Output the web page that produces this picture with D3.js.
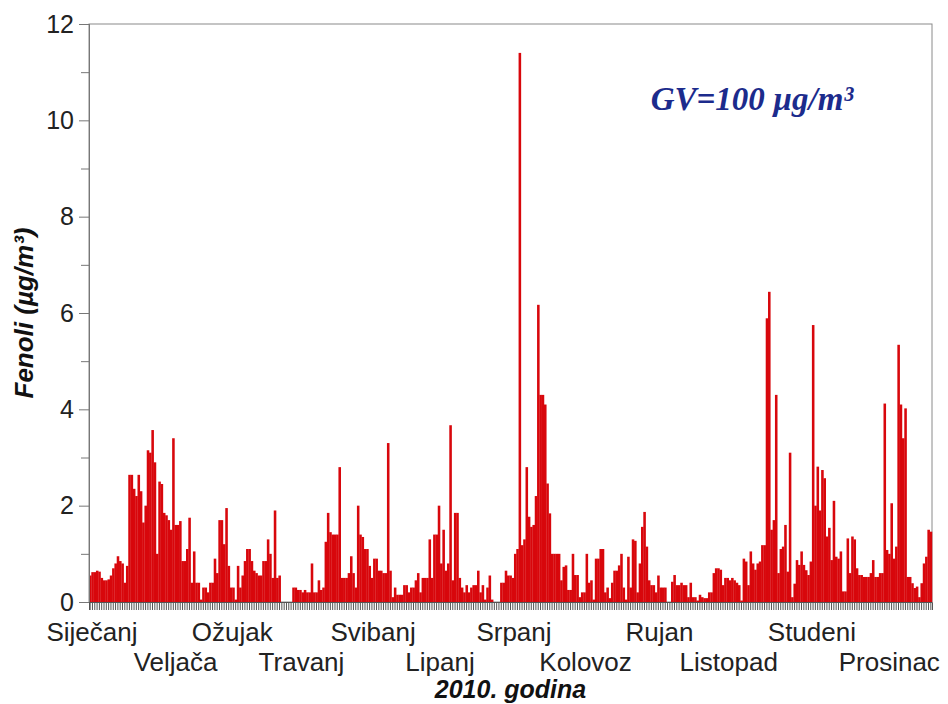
<!DOCTYPE html>
<html>
<head>
<meta charset="utf-8">
<script src="https://cdn.jsdelivr.net/npm/d3@7"></script>
<style>
body { margin: 0; background: #fff; }
</style>
</head>
<body>
<script>
// daily phenol values for 2010, one array per month
var jan = [0.55, 0.62, 0.62, 0.65, 0.63, 0.5, 0.45, 0.45, 0.47, 0.55, 0.7, 0.8, 0.95, 0.85, 0.8, 0.4,
           0.75, 2.64, 2.64, 2.35, 2.2, 2.64, 2.3, 1.65, 2.0, 3.15, 3.1, 3.57, 2.9, 1.0, 2.5];
var feb = [2.45, 1.85, 1.8, 1.7, 1.5, 3.4, 1.6, 1.6, 1.68, 0.85, 0.85, 1.1, 1.75, 0.4, 1.05, 0.4,
           0.4, 0.05, 0.3, 0.3, 0.2, 0.4, 0.4, 0.9, 0.6, 1.7, 1.7, 1.2];
var mar = [1.95, 0.75, 0.3, 0.3, 0.05, 0.75, 0.3, 0.55, 0.85, 1.1, 1.1, 0.85, 0.65, 0.6, 0.55, 0.55,
           0.85, 0.85, 1.3, 1.0, 0.5, 1.9, 0.5, 0.55, 0, 0, 0, 0, 0, 0.3, 0.3];
var apr = [0.25, 0.25, 0.2, 0.25, 0.2, 0.2, 0.8, 0.2, 0.2, 0.45, 0.25, 0.3, 1.25, 1.85, 1.45, 1.4,
           1.4, 1.4, 2.8, 0.5, 0.5, 0.5, 0.6, 0.95, 0.6, 0.3, 2.0, 1.4, 1.35, 1.1];
var may = [1.1, 0.75, 0.5, 0.9, 0.9, 0.65, 0.65, 0.6, 0.6, 3.3, 0.65, 0.1, 0.3, 0.15, 0.15, 0.15,
           0.35, 0.35, 0.2, 0.3, 0.3, 0.45, 0.6, 0.2, 0.5, 0.5, 0.5, 1.3, 0.5, 1.4, 1.4];
var jun = [2.0, 0.8, 1.5, 0.65, 0.8, 3.67, 0.45, 1.85, 1.85, 0.5, 0.3, 0.2, 0.35, 0.2, 0.3, 0.35,
           0.35, 0.65, 0.2, 0.35, 0.05, 0.3, 0.55, 0.05, 0, 0, 0, 0.4, 0.4, 0.65];
var jul = [0.55, 0.55, 0.5, 1.0, 1.1, 11.4, 1.18, 1.3, 2.8, 1.77, 1.56, 1.6, 2.2, 6.17, 4.3, 4.3,
           4.1, 2.46, 1.84, 1.0, 1.0, 1.0, 1.0, 0.45, 0.73, 0.76, 0.25, 0.25, 1.0, 0.56, 0.56];
var aug = [0.1, 0.2, 0.2, 1.0, 0.4, 0.45, 0.05, 0.9, 0.9, 1.1, 1.1, 0.2, 0.3, 0.08, 0.4, 0.65,
           0.65, 0.76, 1.0, 0.3, 0.05, 0.94, 0.3, 1.3, 1.27, 0.2, 0.8, 1.56, 1.87, 1.15, 0.45];
var sep = [0.35, 0.35, 0.2, 0.55, 0.3, 0.3, 0.3, 0, 0, 0.42, 0.56, 0.35, 0.35, 0.4, 0.35, 0.35,
           0.1, 0.4, 0.1, 0.1, 0.03, 0.15, 0.1, 0.08, 0.08, 0.2, 0.2, 0.6, 0.7, 0.7];
var oct = [0.67, 0.35, 0.5, 0.5, 0.45, 0.5, 0.45, 0.4, 0.35, 0.03, 0.9, 0.84, 0.35, 1.05, 0.8, 0.67,
           0.8, 0.84, 1.18, 1.18, 5.89, 6.44, 1.5, 1.7, 4.3, 0.6, 1.1, 1.15, 1.6, 0.63, 3.1];
var nov = [0.1, 0.38, 0.87, 0.77, 1.05, 0.77, 0.66, 0.56, 0.84, 5.75, 2.0, 2.81, 1.9, 2.74, 2.57, 1.36,
           1.54, 0.87, 2.1, 0.94, 0.9, 1.05, 0.22, 0.22, 1.32, 0.6, 1.36, 1.3, 0.7, 0.56];
var dec = [0.56, 0.52, 0.52, 0.52, 0.6, 0.87, 0.52, 0.52, 0.6, 0.6, 4.12, 1.08, 1.0, 2.05, 0.9, 1.15,
           5.34, 4.1, 3.4, 4.02, 0.52, 0.52, 0.39, 0.29, 0.32, 0.1, 0.39, 0.8, 0.94, 1.5, 1.46];

var monthNames = ["Siječanj", "Veljača", "Ožujak", "Travanj", "Svibanj", "Lipanj",
                  "Srpanj", "Kolovoz", "Rujan", "Listopad", "Studeni", "Prosinac"];
// day of year under the middle of each month label
var labelDays = [1.3, 37.5, 62, 92, 123, 152, 184, 215, 247, 277, 313, 346.5];
var yTicks = [0, 2, 4, 6, 8, 10, 12];
var yMinor = [1, 3, 5, 7, 9, 11];

var values = [].concat(jan, feb, mar, apr, may, jun, jul, aug, sep, oct, nov, dec);

var width = 948, height = 704;
var margin = {top: 24, right: 16, bottom: 102, left: 89};

var svg = d3.select("body").append("svg")
    .attr("width", width)
    .attr("height", height);

var x = d3.scaleBand()
    .domain(d3.range(values.length))
    .range([margin.left, width - margin.right])
    .padding(0);

var xDay = d3.scaleLinear()
    .domain([0, values.length])
    .range([margin.left, width - margin.right]);

var y = d3.scaleLinear()
    .domain([0, 12])
    .range([height - margin.bottom, margin.top]);

// frame
svg.append("rect")
    .attr("x", margin.left)
    .attr("y", margin.top)
    .attr("width", width - margin.right - margin.left)
    .attr("height", height - margin.bottom - margin.top)
    .attr("fill", "none")
    .attr("stroke", "#8a8a8a")
    .attr("stroke-width", 1);

// bars
svg.selectAll(".bar")
    .data(values)
    .enter().append("rect")
    .attr("class", "bar")
    .attr("x", function(d, i) { return x(i); })
    .attr("y", function(d) { return y(d); })
    .attr("width", x.bandwidth() + 0.25)
    .attr("height", function(d) { return y(0) - y(d); })
    .attr("fill", "#d8070c");

// y axis
var yAxis = svg.append("g")
    .attr("transform", "translate(" + margin.left + ",0)")
    .call(d3.axisLeft(y).tickValues(yTicks).tickSize(10).tickPadding(5));

yAxis.selectAll("text")
    .style("font-family", "'Liberation Sans', Arial, sans-serif")
    .style("font-size", "25px")
    .attr("fill", "#222");

var yMinorAxis = svg.append("g")
    .attr("transform", "translate(" + margin.left + ",0)")
    .call(d3.axisLeft(y).tickValues(yMinor).tickSize(8).tickFormat(""));

svg.selectAll(".domain").attr("stroke", "#777");
svg.selectAll(".tick line").attr("stroke", "#777");

// daily ticks under the bars
var xAxis = svg.append("g")
    .attr("transform", "translate(0," + y(0) + ")")
    .call(d3.axisBottom(x).tickValues(d3.range(values.length)).tickSize(8).tickFormat(""));

xAxis.selectAll(".tick line").attr("stroke", "#555").attr("stroke-width", 1);
xAxis.select(".domain").attr("stroke", "#555");

// month labels, two rows
svg.selectAll(".month")
    .data(monthNames)
    .enter().append("text")
    .attr("class", "month")
    .attr("x", function(d, i) { return xDay(labelDays[i]); })
    .attr("y", function(d, i) { return i % 2 == 0 ? 641 : 671; })
    .attr("text-anchor", "middle")
    .style("font-family", "'Liberation Sans', Arial, sans-serif")
    .style("font-size", "26px")
    .attr("fill", "#222")
    .text(function(d) { return d; });

// axis titles
svg.append("text")
    .attr("x", (margin.left + width - margin.right) / 2)
    .attr("y", 698)
    .attr("text-anchor", "middle")
    .style("font-family", "'Liberation Sans', Arial, sans-serif")
    .style("font-size", "25px")
    .style("font-weight", "bold")
    .style("font-style", "italic")
    .attr("fill", "#111")
    .text("2010. godina");

svg.append("text")
    .attr("transform", "translate(33," + ((margin.top + height - margin.bottom) / 2) + ") rotate(-90)")
    .attr("text-anchor", "middle")
    .style("font-family", "'Liberation Sans', Arial, sans-serif")
    .style("font-size", "26px")
    .style("font-weight", "bold")
    .style("font-style", "italic")
    .attr("fill", "#111")
    .text("Fenoli (µg/m³)");

svg.append("text")
    .attr("x", 752)
    .attr("y", 110)
    .attr("text-anchor", "middle")
    .style("font-family", "'Liberation Serif', 'Times New Roman', serif")
    .style("font-size", "33px")
    .style("font-weight", "bold")
    .style("font-style", "italic")
    .attr("fill", "#1c2b8c")
    .text("GV=100 µg/m³");
</script>
</body>
</html>
